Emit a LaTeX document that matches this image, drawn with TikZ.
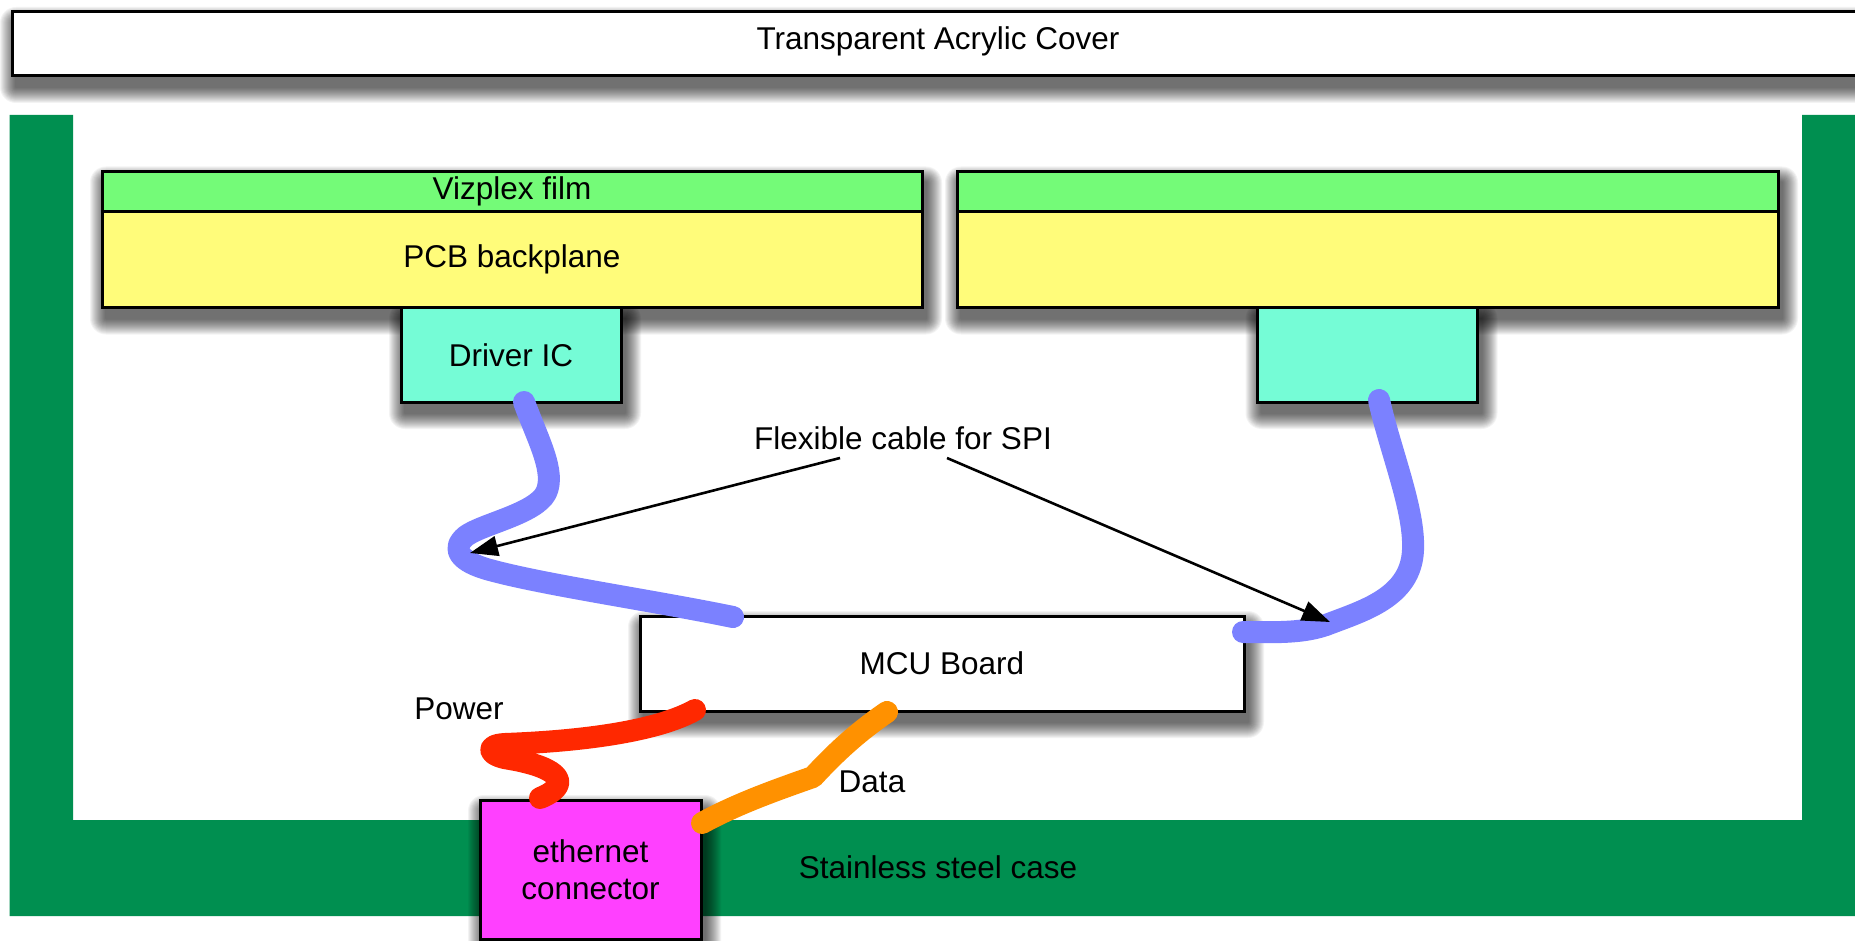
\documentclass[tikz,border=0pt]{standalone}
\usepackage{fontspec}
\setmainfont{Liberation Sans}
\usetikzlibrary{arrows.meta}
\definecolor{casegreen}{RGB}{0,143,80}
\definecolor{vizgreen}{RGB}{116,251,120}
\definecolor{pcbyellow}{RGB}{255,252,122}
\definecolor{icteal}{RGB}{117,252,214}
\definecolor{ethmag}{RGB}{255,64,255}
\definecolor{cblue}{RGB}{123,129,255}
\definecolor{cred}{RGB}{255,40,0}
\definecolor{corange}{RGB}{255,145,0}
\pgfdeclarelayer{bglayer}
\pgfdeclarelayer{shadowlayer}
\pgfsetlayers{bglayer,shadowlayer,main}
\newcommand{\mkshadow}[2]{%
  \begin{pgfonlayer}{shadowlayer}
  \foreach \e in {1,...,16} {
    \fill[black, fill opacity=0.048, rounded corners=\e pt]
      ([shift={({4-\e},{11-\e})}]#1) rectangle ([shift={({4+\e},{11+\e})}]#2);
  }
  \end{pgfonlayer}}
\begin{document}
\begin{tikzpicture}[x=1pt,y=-1pt,
  font=\fontsize{31.5pt}{37pt}\selectfont,
  box/.style={draw=black, line width=3pt, inner sep=0pt, outer sep=0pt, rectangle},
  cable/.style={line width=22pt, line cap=round, line join=round},
  arr/.style={line width=2.6pt, -{Triangle[length=28pt,width=20pt]}},
  lbl/.style={inner sep=0pt, outer sep=0pt}]
\useasboundingbox (0,0) rectangle (1855,941);
\begin{pgfonlayer}{bglayer}
\fill[white] (0,0) rectangle (1855,941);
% stainless steel case
\fill[casegreen] (9.5,115) -- (73,115) -- (73,820) -- (1802,820) -- (1802,115) -- (1855,115)
  -- (1855,916) -- (9.5,916) -- cycle;
\end{pgfonlayer}
\node[lbl] (casetxt) at (938,867) {Stainless steel case};

% cover
\node[box, fill=white, minimum width=1858pt, minimum height=64pt] (cover) at (941,44) {};
\mkshadow{cover.north west}{cover.south east}
\node[lbl] (covertxt) at (938,41) {Transparent Acrylic Cover};

% left panel
\node[box, fill=pcbyellow, minimum width=820pt, minimum height=95.5pt] (pcbL) at (512,259.75) {PCB backplane};
\node[box, fill=vizgreen, minimum width=820pt, minimum height=40.5pt] (vizL) at (512,191.75) {Vizplex film};
\mkshadow{vizL.north west}{pcbL.south east}
\node[box, fill=icteal, minimum width=220pt, minimum height=94.5pt] (icL) at (511,354.75) {Driver IC};
\mkshadow{icL.north west}{icL.south east}

% right panel
\node[box, fill=pcbyellow, minimum width=821pt, minimum height=95.5pt] (pcbR) at (1367.5,259.75) {};
\node[box, fill=vizgreen, minimum width=821pt, minimum height=40.5pt] (vizR) at (1367.5,191.75) {};
\mkshadow{vizR.north west}{pcbR.south east}
\node[box, fill=icteal, minimum width=220pt, minimum height=94.5pt] (icR) at (1367.5,354.75) {};
\mkshadow{icR.north west}{icR.south east}

% MCU board
\node[box, fill=white, minimum width=604pt, minimum height=95pt] (mcu) at (942,663.5) {MCU Board};
\mkshadow{mcu.north west}{mcu.south east}

% ethernet connector
\node[box, fill=ethmag, minimum width=221pt, minimum height=139pt, align=center] (eth) at (590.5,869.5) {ethernet\\connector};
\mkshadow{eth.north west}{eth.south east}

% cable end points
\coordinate (bLs) at (524,402);
\coordinate (bLe) at (733,617);
\coordinate (bRs) at (1379,400);
\coordinate (bRe) at (1243,632);
\coordinate (rS) at (695,710);
\coordinate (rE) at (540,798);
\coordinate (oS) at (887,712);
\coordinate (oE) at (702,823);

% flexible cables
\draw[cable, cblue] (bLs) .. controls (538,440) and (556,472) .. (546,493)
  .. controls (535,514) and (482,524) .. (466,536)
  .. controls (450,549) and (460,562) .. (490,570)
  .. controls (545,585) and (650,600) .. (bLe);
\draw[cable, cblue] (bRs) .. controls (1390,450) and (1415,510) .. (1413,550)
  .. controls (1411,598) and (1362,611) .. (1326,625)
  .. controls (1300,634) and (1270,632) .. (bRe);

% power cable
\draw[cable, cred] (rS) .. controls (650,735) and (560,742) .. (505,744)
  .. controls (484,745) and (488,756) .. (510,759)
  .. controls (562,768) and (572,785) .. (rE);

% data cable
\draw[cable, corange] (oS) .. controls (858,732) and (836,752) .. (813,777)
  .. controls (770,792) and (735,805) .. (oE);

% labels
\node[lbl] (flex) at (903,438) {Flexible cable for SPI};
\node[lbl] (power) at (459,709) {Power};
\node[lbl] (data) at (872,782) {Data};

% arrows
\coordinate (aLs) at (840,458);
\coordinate (aLe) at (470,553);
\coordinate (aRs) at (947,458);
\coordinate (aRe) at (1330,622);
\draw[arr] (aLs) -- (aLe);
\draw[arr] (aRs) -- (aRe);
\end{tikzpicture}
\end{document}
